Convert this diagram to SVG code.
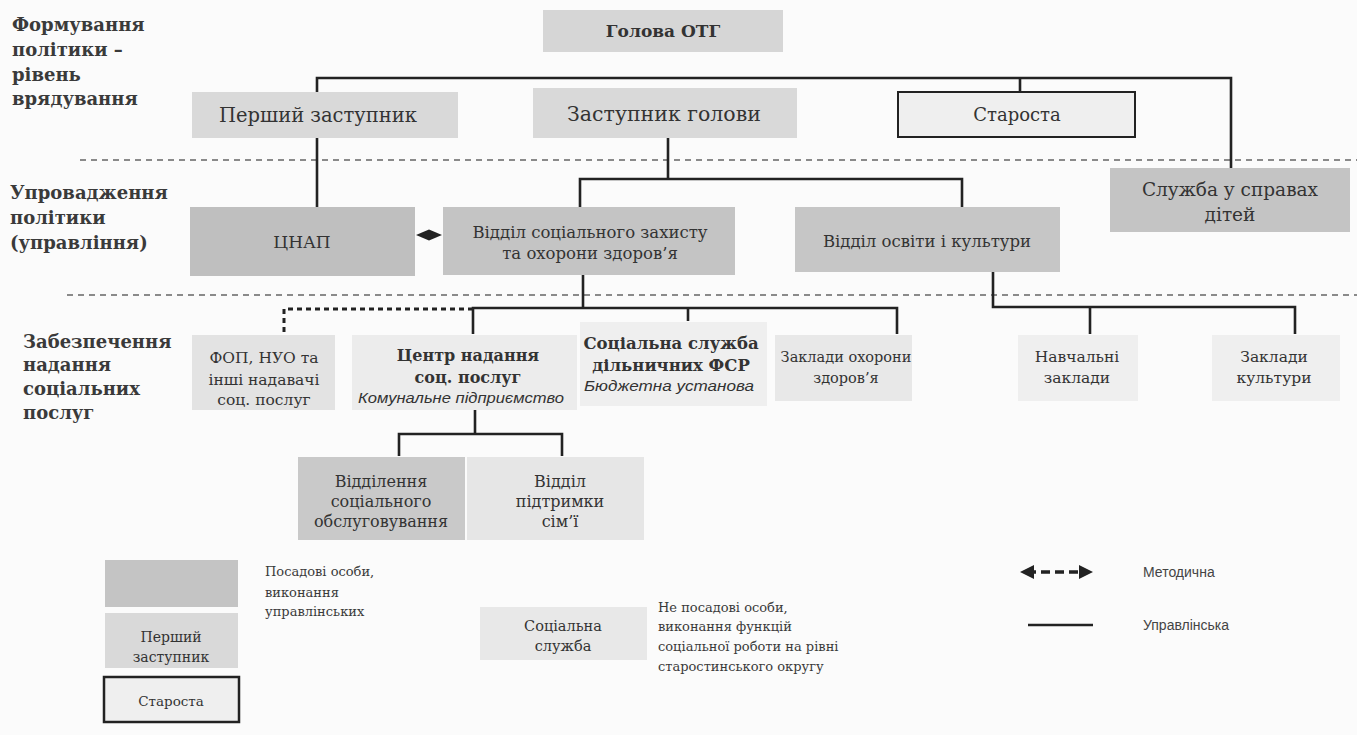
<svg xmlns="http://www.w3.org/2000/svg" width="1357" height="735" viewBox="0 0 1357 735">
<defs>
<style>
text{font-family:"DejaVu Serif","Liberation Serif",serif;fill:#333;}
.lbl{font-weight:bold;font-size:18px;fill:#3a3a3a;}
.c{text-anchor:middle;}
.b{font-weight:bold;}
.i{font-style:italic;font-family:"Liberation Sans","DejaVu Sans",sans-serif;font-size:14px;}
.ln{stroke:#222;stroke-width:2.6;fill:none;stroke-linejoin:miter;}
.sep{stroke:#8a8a8a;stroke-width:2;stroke-dasharray:6 5;fill:none;}
.dash{stroke:#222;stroke-width:3;stroke-dasharray:5 4;fill:none;}
.sans{font-family:"Liberation Sans","DejaVu Sans",sans-serif;font-size:14px;fill:#444;}
.lg{font-size:13px;fill:#3a3a3a;}
</style>
<marker id="ah" viewBox="0 0 10 10" refX="5" refY="5" markerWidth="4" markerHeight="4" orient="auto-start-reverse">
<path d="M0,0 L10,5 L0,10 z" fill="#222"/>
</marker>
</defs>
<rect x="0" y="0" width="1357" height="735" fill="#fbfbfb"/>

<g id="level-labels">
<text class="lbl" x="12" y="31">Формування</text>
<text class="lbl" x="12" y="56">політики –</text>
<text class="lbl" x="12" y="81">рівень</text>
<text class="lbl" x="12" y="105">врядування</text>
<text class="lbl" x="10" y="199">Упровадження</text>
<text class="lbl" x="10" y="224">політики</text>
<text class="lbl" x="10" y="249">(управління)</text>
<text class="lbl" x="23" y="348">Забезпечення</text>
<text class="lbl" x="23" y="371">надання</text>
<text class="lbl" x="23" y="395">соціальних</text>
<text class="lbl" x="23" y="419">послуг</text>
</g>

<g id="separators">
<line class="sep" x1="80" y1="160" x2="1357" y2="160"/>
<line class="sep" x1="67" y1="295" x2="1357" y2="295"/>
</g>

<g id="connectors">
<polyline class="ln" points="317,92 317,78 1231,78 1231,168"/>
<line class="ln" x1="1020" y1="78" x2="1020" y2="92"/>
<line class="ln" x1="317" y1="138" x2="317" y2="207"/>
<line class="ln" x1="668" y1="138" x2="668" y2="179"/>
<polyline class="ln" points="580,207 580,179 962,179 962,207"/>
<line class="ln" x1="583" y1="275" x2="583" y2="308"/>
<polyline class="ln" points="473,334 473,308 897,308 897,334"/>
<line class="ln" x1="688" y1="308" x2="688" y2="321"/>
<polyline class="dash" points="473,309 284,309 284,336"/>
<polyline class="ln" points="993,272 993,307 1295,307 1295,334"/>
<line class="ln" x1="1090" y1="307" x2="1090" y2="334"/>
<line class="ln" x1="475" y1="410" x2="475" y2="434"/>
<polyline class="ln" points="399,456 399,434 562,434 562,456"/>
<polygon points="416,235 429,229.5 442,235 429,240.5" fill="#222"/>
</g>

<g id="golova">
<rect x="543" y="10" width="240" height="42" fill="#d6d6d6"/>
<text class="c b" x="663" y="37" font-size="17">Голова ОТГ</text>
</g>
<g id="pershyi">
<rect x="192" y="92" width="266" height="46" fill="#d9d9d9"/>
<text class="c" x="318" y="122" font-size="19.5">Перший заступник</text>
</g>
<g id="zastupnyk">
<rect x="533" y="88" width="264" height="50" fill="#d9d9d9"/>
<text class="c" x="664" y="121" font-size="20.5">Заступник голови</text>
</g>
<g id="starosta">
<rect x="898" y="92" width="237" height="45" fill="#efefef" stroke="#222" stroke-width="2"/>
<text class="c" x="1017" y="121" font-size="18">Староста</text>
</g>
<g id="tsnap">
<rect x="190" y="207" width="225" height="69" fill="#bfbfbf"/>
<text class="c" x="302" y="248" font-size="17">ЦНАП</text>
</g>
<g id="viddil-sotszakhystu">
<rect x="443" y="207" width="292" height="68" fill="#c4c4c4"/>
<text class="c" x="590" y="238" font-size="16.5">Відділ соціального захисту</text>
<text class="c" x="590" y="259" font-size="16.5">та охорони здоров’я</text>
</g>
<g id="viddil-osvity">
<rect x="795" y="207" width="265" height="65" fill="#c6c6c6"/>
<text class="c" x="927" y="247" font-size="16.5">Відділ освіти і культури</text>
</g>
<g id="sluzhba-ditei">
<rect x="1110" y="168" width="240" height="64" fill="#c4c4c4"/>
<text class="c" x="1230" y="196" font-size="18.5">Служба у справах</text>
<text class="c" x="1230" y="221" font-size="18.5">дітей</text>
</g>

<g id="fop">
<rect x="192" y="335" width="143" height="75" fill="#e3e3e3"/>
<text class="c" x="264" y="363" font-size="15.5">ФОП, НУО та</text>
<text class="c" x="264" y="385" font-size="15.5">інші надавачі</text>
<text class="c" x="264" y="405" font-size="15.5">соц. послуг</text>
</g>
<g id="tsentr">
<rect x="352" y="335" width="225" height="75" fill="#ececec"/>
<text class="c b" x="468" y="361" font-size="16">Центр надання</text>
<text class="c b" x="468" y="383" font-size="16">соц. послуг</text>
<text class="c i" x="461" y="403" textLength="206" lengthAdjust="spacingAndGlyphs">Комунальне підприємство</text>
</g>
<g id="sotssluzhba-fsr">
<rect x="580" y="322" width="187" height="84" fill="#efefef"/>
<text class="c b" x="671" y="349" font-size="16.5">Соціальна служба</text>
<text class="c b" x="671" y="371" font-size="16.5">дільничних ФСР</text>
<text class="c i" x="669" y="391" textLength="170" lengthAdjust="spacingAndGlyphs">Бюджетна установа</text>
</g>
<g id="zaklady-okhorony">
<rect x="775" y="335" width="137" height="66" fill="#e8e8e8"/>
<text class="c" x="846" y="362" font-size="14.5">Заклади охорони</text>
<text class="c" x="846" y="383" font-size="14.5">здоров’я</text>
</g>
<g id="navchalni">
<rect x="1018" y="335" width="120" height="66" fill="#efefef"/>
<text class="c" x="1077" y="362" font-size="15.5">Навчальні</text>
<text class="c" x="1077" y="383" font-size="15.5">заклади</text>
</g>
<g id="zaklady-kultury">
<rect x="1212" y="335" width="128" height="66" fill="#efefef"/>
<text class="c" x="1274" y="362" font-size="15.5">Заклади</text>
<text class="c" x="1274" y="383" font-size="15.5">культури</text>
</g>
<g id="viddilennia">
<rect x="298" y="457" width="167" height="83" fill="#c9c9c9"/>
<text class="c" x="381" y="487" font-size="16">Відділення</text>
<text class="c" x="381" y="507" font-size="16">соціального</text>
<text class="c" x="381" y="527" font-size="16">обслуговування</text>
</g>
<g id="viddil-simi">
<rect x="467" y="457" width="177" height="83" fill="#e6e6e6"/>
<text class="c" x="560" y="487" font-size="16">Відділ</text>
<text class="c" x="560" y="507" font-size="16">підтримки</text>
<text class="c" x="560" y="527" font-size="16">сім’ї</text>
</g>

<g id="legend">
<rect x="105" y="560" width="133" height="47" fill="#c4c4c4"/>
<rect x="105" y="613" width="133" height="55" fill="#d9d9d9"/>
<text class="c" x="171" y="642" font-size="14">Перший</text>
<text class="c" x="171" y="662" font-size="14">заступник</text>
<rect x="104" y="677" width="135" height="45" fill="#efefef" stroke="#222" stroke-width="2.5"/>
<text class="c" x="171" y="706" font-size="13.5">Староста</text>
<text class="lg" x="265" y="576">Посадові особи,</text>
<text class="lg" x="265" y="597">виконання</text>
<text class="lg" x="265" y="616">управлінських</text>
<rect x="480" y="607" width="167" height="53" fill="#e8e8e8"/>
<text class="c" x="563" y="631" font-size="14.5">Соціальна</text>
<text class="c" x="563" y="651" font-size="14.5">служба</text>
<text class="lg" x="658" y="612">Не посадові особи,</text>
<text class="lg" x="658" y="631">виконання функцій</text>
<text class="lg" x="658" y="651">соціальної роботи на рівні</text>
<text class="lg" x="658" y="671">старостинського округу</text>
<line x1="1027" y1="572" x2="1086" y2="572" stroke="#222" stroke-width="3.5" stroke-dasharray="9 5" marker-start="url(#ah)" marker-end="url(#ah)"/>
<text class="sans" x="1143" y="577">Методична</text>
<line x1="1028" y1="625" x2="1093" y2="625" stroke="#222" stroke-width="2.6"/>
<text class="sans" x="1143" y="630">Управлінська</text>
</g>
</svg>
